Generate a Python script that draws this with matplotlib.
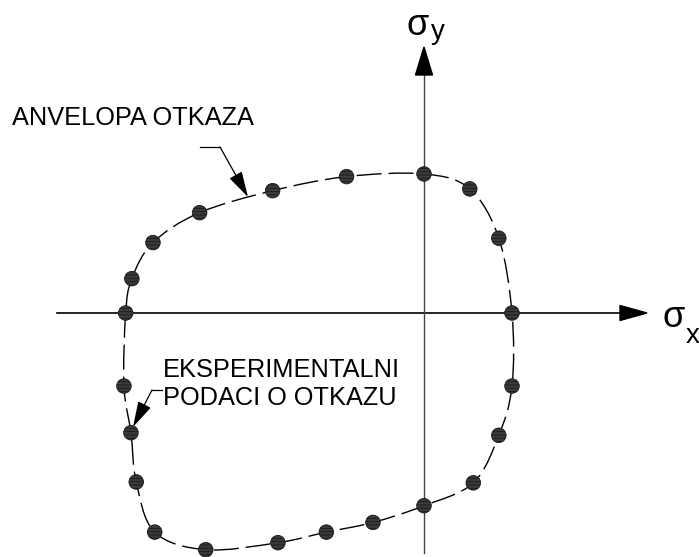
import numpy as np
import matplotlib
matplotlib.use("Agg")
import matplotlib.pyplot as plt
from matplotlib.path import Path
from matplotlib.patches import PathPatch, Polygon

plt.rcParams['font.family'] = ['Liberation Sans', 'DejaVu Sans']
plt.rcParams['hatch.linewidth'] = 0.6

# experimental failure data (sigma_x, sigma_y), clockwise from top
sigma_x = [0.00, 0.52, 0.85, 1.00, 1.00, 0.85, 0.56, 0.00, -0.58, -1.11, -1.66,
           -2.48, -3.06, -3.27, -3.33, -3.41, -3.39, -3.32, -3.08, -2.55, -1.72, -0.88]
sigma_y = [1.58, 1.41, 0.85, 0.00, -0.83, -1.39, -1.93, -2.19, -2.38, -2.49, -2.61,
           -2.69, -2.49, -1.92, -1.36, -0.83, 0.00, 0.39, 0.80, 1.14, 1.39, 1.55]

label_envelope = "ANVELOPA OTKAZA"
label_data = "EKSPERIMENTALNI\nPODACI O OTKAZU"

fig = plt.figure(figsize=(6.99, 5.57), dpi=100)
ax = fig.add_axes([0, 0, 1, 1])
ax.set_xlim(-424 / 88, 275 / 88)
ax.set_ylim(-244 / 88, 313 / 88)
ax.axis('off')


def px(x):
    return (x - 424) / 88


def py(y):
    return (313 - y) / 88


# axes lines with arrowheads
ax.plot([px(57), px(622)], [0, 0], color='black', lw=1.2, zorder=1)
ax.add_patch(Polygon([[px(620), py(305.5)], [px(647), 0], [px(620), py(320.5)]],
                     closed=True, color='black', zorder=1))
ax.plot([0, 0], [py(553), py(74)], color='#444444', lw=1.0, zorder=1)
ax.add_patch(Polygon([[px(415.5), py(75)], [0, py(47)], [px(432.5), py(75)]],
                     closed=True, color='black', zorder=1))

ax.text(px(662), py(327), 'σ', fontsize=26, ha='left', va='baseline')
ax.text(px(686), py(343), 'x', fontsize=20, ha='left', va='baseline')
ax.text(px(406), py(35), 'σ', fontsize=26, ha='left', va='baseline')
ax.text(px(431), py(39), 'y', fontsize=20, ha='left', va='baseline')

# envelope: closed smooth curve (Catmull-Rom as cubic Beziers) through data
P = np.column_stack([sigma_x, sigma_y])
n = len(P)
verts = [P[0]]
codes = [Path.MOVETO]
for i in range(n):
    p0, p1, p2, p3 = P[(i - 1) % n], P[i], P[(i + 1) % n], P[(i + 2) % n]
    c1 = p1 + (p2 - p0) / 6.0
    c2 = p2 - (p3 - p1) / 6.0
    verts += [c1, c2, p2]
    codes += [Path.CURVE4] * 3
env = PathPatch(Path(verts, codes), facecolor='none', edgecolor='black', lw=1.0,
                linestyle=(0, (18, 5)), zorder=2)
ax.add_patch(env)

ax.scatter(sigma_x, sigma_y, s=110, facecolor='#3a3a3a', edgecolor='#1a1a1a',
           hatch='-----', linewidths=0.6, zorder=3)

# labels with leaders
ax.text(px(12), py(118.5), label_envelope, fontsize=18.3,
        ha='left', va='center')
ax.plot([px(200), px(220)], [py(147)] * 2, color='black', lw=0.9)
ax.annotate('', xy=(px(248), py(197)), xytext=(px(220), py(147)),
            arrowprops=dict(arrowstyle='-|>,head_length=0.8,head_width=0.22',
                            mutation_scale=20, color='black', lw=0.9,
                            shrinkA=0, shrinkB=0))

ax.text(px(163), py(384), label_data, fontsize=18.3,
        ha='left', va='center', linespacing=1.25)
ax.plot([px(152), px(162)], [py(390)] * 2, color='black', lw=0.9)
ax.annotate('', xy=(px(133), py(427)), xytext=(px(152), py(390)),
            arrowprops=dict(arrowstyle='-|>,head_length=0.8,head_width=0.22',
                            mutation_scale=20, color='black', lw=0.9,
                            shrinkA=0, shrinkB=0))

fig.savefig('out.png', dpi=100, facecolor='white')
